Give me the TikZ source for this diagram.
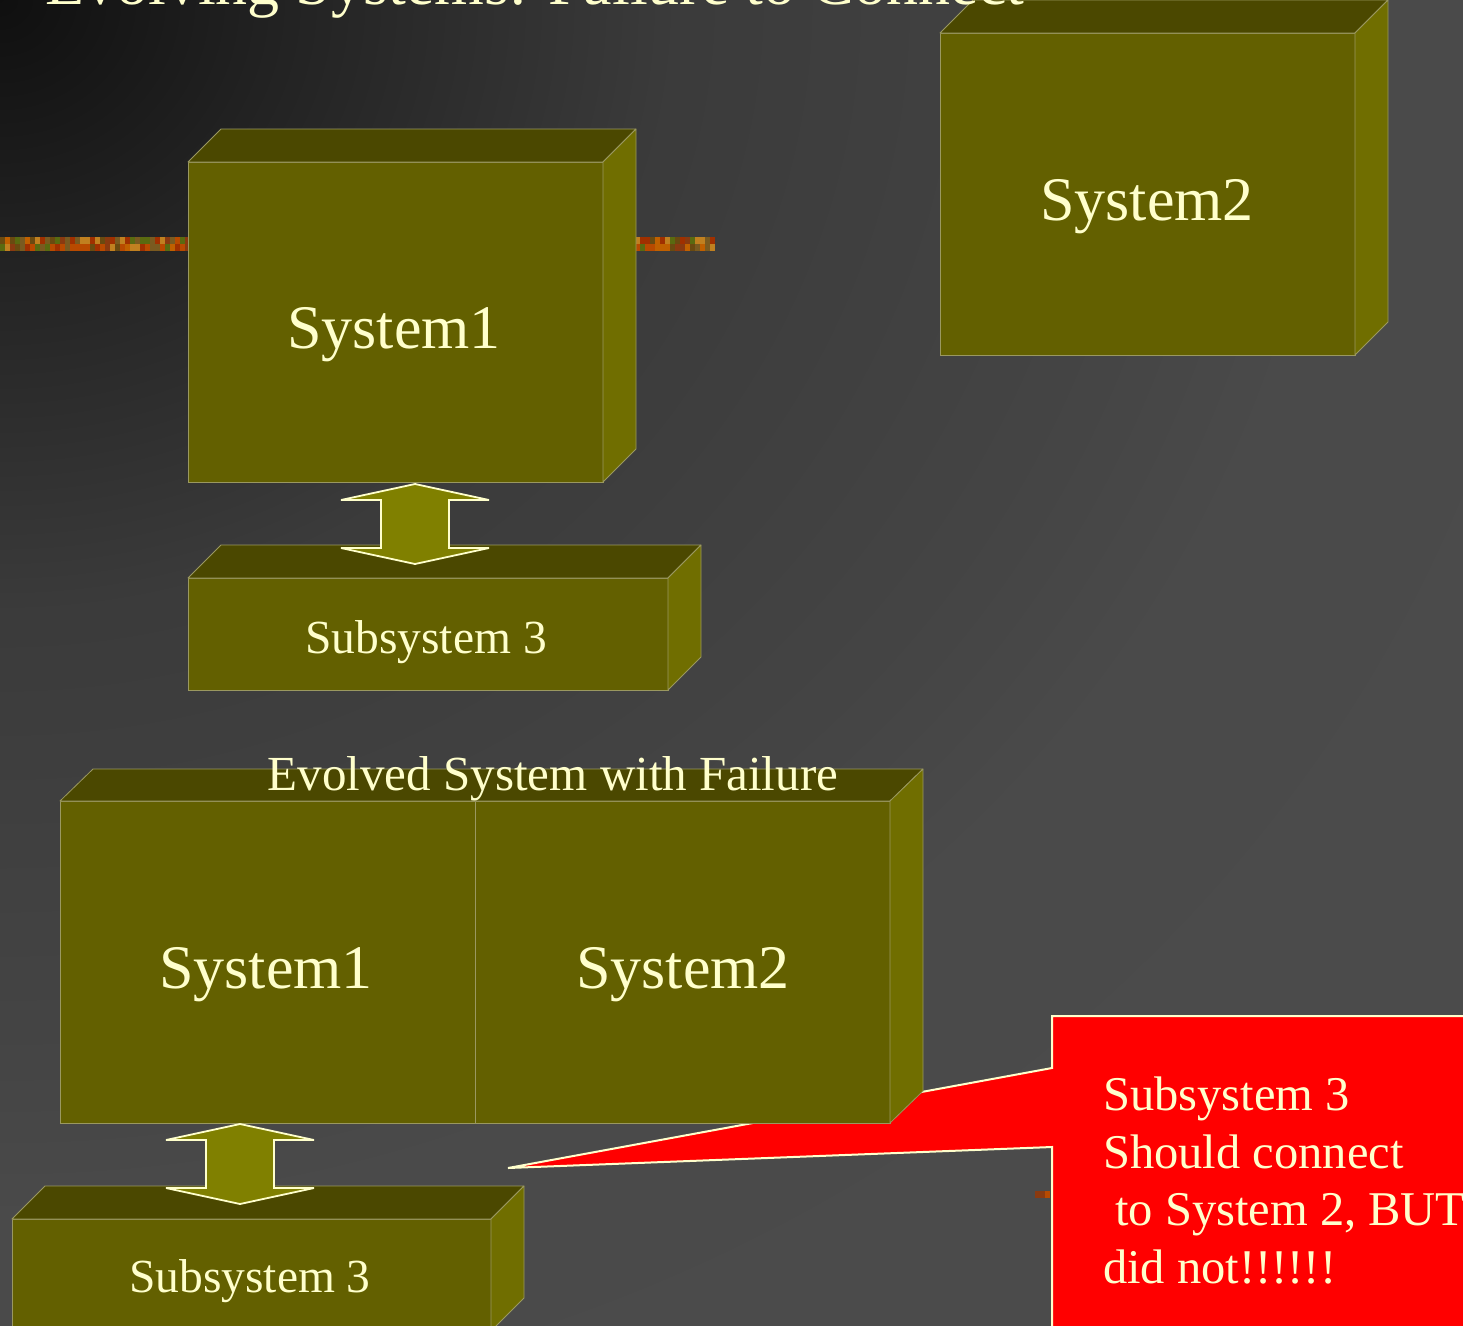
\documentclass[tikz,border=0pt]{standalone}
\usepackage{fontspec}
\setmainfont{Liberation Serif}
\usetikzlibrary{calc}

% palette
\definecolor{front}{HTML}{636000}
\definecolor{topc}{HTML}{4B4800}
\definecolor{sidec}{HTML}{706E00}
\definecolor{edgec}{HTML}{9A9860}
\definecolor{cream}{HTML}{FFFFCC}
\definecolor{arrowc}{HTML}{808000}
\definecolor{alertred}{HTML}{FF0000}
\definecolor{strip1}{HTML}{B84A00}
\definecolor{strip2}{HTML}{8A3A10}
\definecolor{strip3}{HTML}{C06000}
\definecolor{strip4}{HTML}{7A5A20}
\definecolor{strip5}{HTML}{A03000}
\definecolor{strip6}{HTML}{6A4A10}
\definecolor{strip7}{HTML}{C08020}
\definecolor{strip8}{HTML}{5A6A10}

% slide background: dark in the upper left corner, lighter outwards
\pgfdeclareradialshading{slidebg}{\pgfpoint{0bp}{0bp}}{%
  rgb(0bp)=(0.06,0.06,0.06);
  rgb(4.7bp)=(0.133,0.133,0.133);
  rgb(11.5bp)=(0.23,0.23,0.23);
  rgb(20bp)=(0.27,0.27,0.27);
  rgb(23bp)=(0.29,0.29,0.29);
  rgb(40bp)=(0.30,0.30,0.30)}

\tikzset{
  faceF/.style={rectangle, fill=front, draw=edgec, line width=0.8pt, inner sep=0pt, outer sep=0pt},
  faceT/.style={fill=topc, draw=edgec, line width=0.8pt, line join=round},
  faceS/.style={fill=sidec, draw=edgec, line width=0.8pt, line join=round},
  blockarrow/.style={fill=arrowc, draw=cream, line width=1.8pt, line join=miter, miter limit=3},
  lbl/.style={text=cream, inner sep=0pt, anchor=base},
  calloutshape/.style={fill=alertred, draw=cream, line width=2pt, line join=miter, miter limit=3}
}

% a 3-D slab: front face node plus top and right faces
% #1 name, #2 x1, #3 y1, #4 x2, #5 y2, #6 depth
\newcommand\slab[6]{%
  \node[faceF, minimum width={#4-#2}, minimum height={#5-#3}] (#1) at ({(#2+#4)/2},{(#3+#5)/2}) {};
  \filldraw[faceT] (#1.north west) -- ++(#6,-#6) -- ([shift={(#6,-#6)}]#1.north east) -- (#1.north east) -- cycle;
  \filldraw[faceS] (#1.north east) -- ++(#6,-#6) -- ([shift={(#6,-#6)}]#1.south east) -- (#1.south east) -- cycle;}

% two-headed block arrow between a top point and a bottom point
\newcommand\dblblock[2]{%
  \draw[blockarrow] let \p1=(#1), \p2=(#2) in
    (\x1,\y1) -- (\x1+74pt,\y1-16pt) -- (\x1+34pt,\y1-16pt) -- (\x1+34pt,\y2+16pt)
    -- (\x1+74pt,\y2+16pt) -- (\x1,\y2) -- (\x1-74pt,\y2+16pt) -- (\x1-34pt,\y2+16pt)
    -- (\x1-34pt,\y1-16pt) -- (\x1-74pt,\y1-16pt) -- cycle;}

% mottled template strip
\newcommand\texstrip[4]{% x1, x2, y, rows
  \foreach \sx in {#1,...,#2} {
    \foreach \sr in {1,...,#4} {
      \pgfmathrandominteger{\k}{1}{8}
      \fill[strip\k] (\sx*5,#3+\sr*7-7) rectangle ++(5,7);
    }
  }}

\begin{document}
\begin{tikzpicture}[x=1pt,y=-1pt]
\useasboundingbox (0,0) rectangle (1463,1325);

\begin{scope}
  \clip (0,0) rectangle (1463,1325);
  \shade[shading=slidebg] (-1463,-1325) rectangle (1463,1325);
\end{scope}

\pgfmathsetseed{17}
\texstrip{0}{37}{237}{2}
\texstrip{127}{142}{237}{2}

% upper row
\slab{sysTwo}{940}{33}{1355}{355}{33}
\slab{sysOne}{188}{162}{603}{482}{33}
\slab{subA}{188}{578}{668}{690}{33}

\coordinate (arrAtop) at ([xshift=19.5,yshift=-2]sysOne.south);
\coordinate (arrAbot) at ([xshift=-13,yshift=14]subA.north);
\dblblock{arrAtop}{arrAbot}

% callout, behind the evolved system
\texstrip{207}{209}{1191}{1}
\coordinate (tip) at (508,1168);
\filldraw[calloutshape] (1052,1068) -- (1052,1016) -- (1480,1016) -- (1480,1340)
  -- (1052,1340) -- (1052,1147) -- (tip) -- cycle;

% lower row
\slab{subB}{12}{1219}{491}{1331}{33}

\node[faceF, minimum width=415, minimum height=322] (sysOneB) at (267.5,962) {};
\node[faceF, minimum width=415, minimum height=322] (sysTwoB) at (682.5,962) {};
\filldraw[faceT] (sysOneB.north west) -- ++(33,-32) -- ([shift={(33,-32)}]sysTwoB.north east) -- (sysTwoB.north east) -- cycle;
\filldraw[faceS] (sysTwoB.north east) -- ++(33,-32) -- ([shift={(33,-32)}]sysTwoB.south east) -- (sysTwoB.south east) -- cycle;

\coordinate (arrBtop) at ([xshift=-27.5,yshift=-1]sysOneB.south);
\coordinate (arrBbot) at ([xshift=-11.5,yshift=15]subB.north);
\dblblock{arrBtop}{arrBbot}

% labels
\node[lbl, font=\fontsize{62}{62}\selectfont] (tSysTwo) at (1147,220) {System2};
\node[lbl, font=\fontsize{62}{62}\selectfont] (tSysOne) at (394,348) {System1};
\node[lbl, font=\fontsize{47.5}{47.5}\selectfont] (tSubA) at (426,653) {Subsystem 3};
\node[lbl, font=\fontsize{49}{49}\selectfont] (tEvolved) at (553,790) {Evolved System with Failure};
\node[lbl, font=\fontsize{62}{62}\selectfont] (tSysOneB) at (266,988) {System1};
\node[lbl, font=\fontsize{62}{62}\selectfont] (tSysTwoB) at (683,988) {System2};
\node[lbl, font=\fontsize{47.5}{47.5}\selectfont] (tSubB) at (250,1292) {Subsystem 3};

% the base anchor of a multi-line node sits on its last line
\node[lbl, anchor=base west, align=left, font=\fontsize{48.5}{57.5}\selectfont] (note) at (1103,1283)
  {Subsystem 3\\Should connect\\\hspace*{0.25em}to System 2, BUT\\did not!!!!!!};

\node[lbl, anchor=base west, font=\fontsize{64}{64}\selectfont] (title) at (45,5)
  {Evolving Systems: Failure to Connect};
\end{tikzpicture}
\end{document}
